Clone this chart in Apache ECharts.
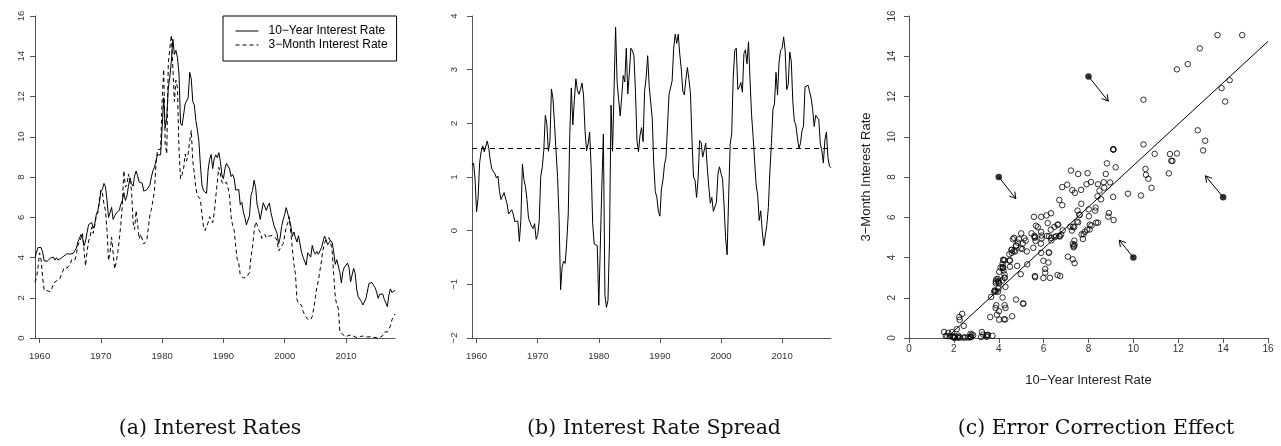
<!DOCTYPE html>
<html>
<head>
<meta charset="utf-8">
<script src="https://cdn.jsdelivr.net/npm/echarts@6/dist/echarts.min.js"></script>
<style>
  html, body { margin: 0; padding: 0; background: #fff; }
  #chart { width: 1281px; height: 446px; }
</style>
</head>
<body>
<div id="chart"></div>
<script>
// Quarterly averages, 1959Q1 .. 2017Q4 (stamped at quarter end)
const firstYear = 1959;

const tenYear = [
  3.99, 4.26, 4.50, 4.58,   // 1959
  4.49, 4.26, 3.83, 3.89,   // 1960
  3.82, 3.80, 3.97, 3.99,   // 1961
  4.02, 3.87, 3.99, 3.87,   // 1962
  3.89, 3.96, 4.02, 4.08,   // 1963
  4.17, 4.19, 4.19, 4.17,   // 1964
  4.20, 4.21, 4.25, 4.47,   // 1965
  4.77, 4.78, 5.14, 5.00,   // 1966
  4.58, 4.82, 5.25, 5.64,   // 1967
  5.61, 5.74, 5.46, 5.66,   // 1968
  6.13, 6.33, 6.70, 7.28,   // 1969
  7.39, 7.68, 7.51, 6.85,   // 1970
  5.99, 6.23, 6.49, 5.89,   // 1971
  6.07, 6.21, 6.24, 6.34,   // 1972
  6.65, 6.83, 7.22, 6.83,   // 1973
  7.05, 7.54, 7.96, 7.67,   // 1974
  7.54, 8.05, 8.30, 8.06,   // 1975
  7.75, 7.78, 7.69, 7.30,   // 1976
  7.38, 7.37, 7.36, 7.60,   // 1977
  8.01, 8.32, 8.49, 8.82,   // 1978
  9.11, 9.11, 9.10, 10.45,  // 1979
  11.94, 10.45, 10.95, 12.42, // 1980
  12.96, 13.75, 14.85, 14.09, // 1981
  14.29, 13.93, 13.11, 10.67, // 1982
  10.56, 10.54, 11.63, 11.69, // 1983
  11.94, 13.20, 12.87, 11.74, // 1984
  11.58, 10.81, 10.34, 9.76,  // 1985
  8.56, 7.60, 7.31, 7.26,   // 1986
  7.19, 8.34, 8.88, 9.12,   // 1987
  8.42, 8.91, 9.10, 8.96,   // 1988
  9.21, 8.77, 8.11, 7.91,   // 1989
  8.42, 8.68, 8.70, 8.40,   // 1990
  8.02, 8.13, 7.94, 7.35,   // 1991
  7.30, 7.38, 6.62, 6.74,   // 1992
  6.28, 5.99, 5.62, 5.61,   // 1993
  6.07, 7.08, 7.33, 7.84,   // 1994
  7.48, 6.62, 6.32, 5.89,   // 1995
  5.91, 6.72, 6.78, 6.34,   // 1996
  6.56, 6.70, 6.24, 5.91,   // 1997
  5.59, 5.60, 5.20, 4.67,   // 1998
  4.98, 5.54, 5.88, 6.14,   // 1999
  6.48, 6.18, 5.89, 5.57,   // 2000
  5.05, 5.27, 4.98, 4.77,   // 2001
  5.08, 5.10, 4.26, 4.01,   // 2002
  3.92, 3.62, 4.23, 4.29,   // 2003
  4.02, 4.60, 4.30, 4.17,   // 2004
  4.30, 4.16, 4.21, 4.49,   // 2005
  4.57, 5.07, 4.90, 4.63,   // 2006
  4.68, 4.85, 4.73, 4.26,   // 2007
  3.66, 3.89, 3.86, 3.25,   // 2008
  2.74, 3.31, 3.52, 3.46,   // 2009
  3.72, 3.49, 2.79, 2.86,   // 2010
  3.46, 3.21, 2.43, 2.05,   // 2011
  2.04, 1.82, 1.64, 1.71,   // 2012
  1.95, 2.00, 2.71, 2.75,   // 2013
  2.76, 2.62, 2.50, 2.28,   // 2014
  1.97, 2.17, 2.22, 2.19,   // 2015
  1.92, 1.75, 1.56, 2.13,   // 2016
  2.44, 2.26, 2.24, 2.37    // 2017
];

const threeMonth = [
  2.77, 3.00, 3.54, 4.23,   // 1959
  3.87, 2.99, 2.36, 2.31,   // 1960
  2.35, 2.30, 2.30, 2.46,   // 1961
  2.72, 2.72, 2.84, 2.81,   // 1962
  2.91, 2.94, 3.29, 3.50,   // 1963
  3.53, 3.48, 3.50, 3.68,   // 1964
  3.89, 3.87, 3.86, 4.16,   // 1965
  4.60, 4.58, 4.96, 5.20,   // 1966
  4.38, 3.58, 4.30, 4.82,   // 1967
  5.03, 5.51, 5.20, 5.58,   // 1968
  6.09, 6.20, 6.86, 7.35,   // 1969
  7.21, 6.67, 6.33, 5.35,   // 1970
  3.84, 4.25, 5.01, 4.23,   // 1971
  3.43, 3.75, 4.24, 4.85,   // 1972
  5.64, 6.60, 8.32, 7.50,   // 1973
  7.62, 8.15, 8.19, 7.36,   // 1974
  5.75, 5.39, 6.33, 5.63,   // 1975
  4.92, 5.16, 5.15, 4.67,   // 1976
  4.63, 4.84, 5.50, 6.11,   // 1977
  6.39, 6.48, 7.32, 8.68,   // 1978
  9.36, 9.37, 9.38, 11.84,  // 1979
  13.35, 9.62, 9.15, 13.61, // 1980
  14.39, 15.05, 15.05, 11.75, // 1981
  12.81, 12.42, 9.32, 7.91, // 1982
  8.11, 8.40, 9.14, 8.80,   // 1983
  9.17, 9.80, 10.32, 8.80,  // 1984
  8.18, 7.46, 7.08, 7.17,   // 1985
  6.89, 6.13, 5.53, 5.34,   // 1986
  5.53, 5.73, 6.03, 5.86,   // 1987
  5.73, 6.21, 7.01, 7.73,   // 1988
  8.48, 8.15, 7.75, 7.64,   // 1989
  7.64, 7.74, 7.47, 7.04,   // 1990
  6.05, 5.59, 5.38, 4.56,   // 1991
  3.91, 3.72, 3.13, 3.08,   // 1992
  2.99, 2.98, 3.02, 3.08,   // 1993
  3.25, 4.04, 4.51, 5.28,   // 1994
  5.78, 5.62, 5.38, 5.27,   // 1995
  4.95, 5.04, 5.14, 4.97,   // 1996
  5.06, 5.07, 5.06, 5.09,   // 1997
  5.08, 4.98, 4.84, 4.32,   // 1998
  4.45, 4.48, 4.69, 5.07,   // 1999
  5.52, 5.71, 6.02, 6.02,   // 2000
  4.42, 3.66, 3.17, 1.91,   // 2001
  1.72, 1.70, 1.63, 1.33,   // 2002
  1.16, 1.04, 0.93, 0.92,   // 2003
  0.91, 1.08, 1.49, 2.01,   // 2004
  2.54, 2.86, 3.36, 3.83,   // 2005
  4.38, 4.70, 4.91, 4.91,   // 2006
  4.98, 4.74, 4.30, 3.15,   // 2007
  2.04, 1.63, 1.49, 0.30,   // 2008
  0.21, 0.17, 0.16, 0.06,   // 2009
  0.11, 0.14, 0.16, 0.14,   // 2010
  0.13, 0.05, 0.02, 0.01,   // 2011
  0.07, 0.09, 0.10, 0.09,   // 2012
  0.09, 0.05, 0.03, 0.06,   // 2013
  0.05, 0.03, 0.03, 0.02,   // 2014
  0.03, 0.02, 0.04, 0.12,   // 2015
  0.29, 0.26, 0.30, 0.44,   // 2016
  0.60, 0.90, 1.04, 1.20    // 2017
];

const yearTicks = [1960, 1970, 1980, 1990, 2000, 2010];

// Error-correction illustration: off-equilibrium points and where they are pulled
const arrowFrom = [[4, 8], [8, 13], [14, 7], [10, 4]];
const arrowTo = [[4.76, 6.93], [8.88, 11.77], [13.21, 8.06], [9.37, 4.86]];

const seriesNames = ['10\u2212Year Interest Rate', '3\u2212Month Interest Rate'];
const captions = ['(a) Interest Rates', '(b) Interest Rate Spread', '(c) Error Correction Effect'];

// ---- derived series ----
const times = tenYear.map((_, i) => firstYear + (i + 1) / 4);
const spread = tenYear.map((v, i) => +(v - threeMonth[i]).toFixed(2));
const meanSpread = spread.reduce((a, b) => a + b, 0) / spread.length;

const n = tenYear.length;
const mx = tenYear.reduce((a, b) => a + b, 0) / n;
const my = threeMonth.reduce((a, b) => a + b, 0) / n;
let sxy = 0, sxx = 0;
for (let i = 0; i < n; i++) {
  sxy += (tenYear[i] - mx) * (threeMonth[i] - my);
  sxx += (tenYear[i] - mx) * (tenYear[i] - mx);
}
const slope = sxy / sxx;
const intercept = my - slope * mx;
const fitX0 = Math.max(0, -intercept / slope);
const fitLine = [[fitX0, intercept + slope * fitX0], [16, intercept + slope * 16]];

const sans = '"Liberation Sans", Arial, Helvetica, sans-serif';
const serif = '"DejaVu Serif", serif';
const minus = v => String(v).replace('-', '\u2212');

function valueAxisY(grid, min, max, interval, margin, fontSize) {
  return {
    type: 'value', gridIndex: grid, min, max, interval,
    axisLine: { show: true, onZero: false, lineStyle: { color: '#555', width: 1 } },
    axisTick: { show: true, length: 5, lineStyle: { color: '#555' } },
    axisLabel: { rotate: 90, margin, fontSize, fontFamily: sans, color: '#333', formatter: minus },
    splitLine: { show: false }
  };
}

function timeAxisX(grid) {
  return {
    type: 'value', gridIndex: grid, min: times[0], max: times[times.length - 1],
    axisLine: { show: true, onZero: false, lineStyle: { color: '#555', width: 1 } },
    axisTick: { show: true, length: 5, customValues: yearTicks, lineStyle: { color: '#555' } },
    axisLabel: {
      customValues: yearTicks, margin: 13, fontSize: 9.5, fontFamily: sans, color: '#333',
      formatter: v => String(Math.round(v))
    },
    splitLine: { show: false }
  };
}

const chart = echarts.init(document.getElementById('chart'), null, { renderer: 'canvas' });

chart.setOption({
  animation: false,
  backgroundColor: '#fff',
  title: captions.map((t, i) => ({
    text: t,
    left: [205, 649, 1091][i],
    top: 413,
    textAlign: 'center',
    textStyle: { fontFamily: serif, fontSize: 20.5, fontWeight: 'normal', color: '#111' }
  })),
  legend: {
    data: seriesNames,
    orient: 'vertical',
    left: 223, top: 16,
    padding: [9, 9, 10, 12],
    itemGap: 2, itemWidth: 23, itemHeight: 12,
    borderColor: '#000', borderWidth: 1,
    selectedMode: false,
    itemStyle: { color: 'rgba(0,0,0,0)', borderWidth: 0, opacity: 0 },
    lineStyle: { width: 1, color: '#000' },
    textStyle: { fontFamily: sans, fontSize: 12, color: '#000', padding: [0, 0, 0, 5] }
  },
  grid: [
    { left: 35, top: 16, width: 360, height: 322 },
    { left: 472, top: 16, width: 359, height: 322 },
    { left: 909, top: 16, width: 359, height: 322 }
  ],
  xAxis: [
    timeAxisX(0),
    timeAxisX(1),
    {
      type: 'value', gridIndex: 2, min: 0, max: 16, interval: 2,
      name: '10\u2212Year Interest Rate', nameLocation: 'middle', nameGap: 36,
      nameTextStyle: { fontFamily: sans, fontSize: 13, color: '#222' },
      axisLine: { show: true, onZero: false, lineStyle: { color: '#555', width: 1 } },
      axisTick: { show: true, length: 5, lineStyle: { color: '#555' } },
      axisLabel: { margin: 6, fontSize: 10, fontFamily: sans, color: '#333' },
      splitLine: { show: false }
    }
  ],
  yAxis: [
    valueAxisY(0, 0, 16, 2, 9, 9.5),
    valueAxisY(1, -2, 4, 1, 13, 9.5),
    Object.assign(valueAxisY(2, 0, 16, 2, 12, 10), {
      name: '3\u2212Month Interest Rate', nameLocation: 'middle', nameGap: 36, nameRotate: 90,
      nameTextStyle: { fontFamily: sans, fontSize: 13, color: '#222' }
    })
  ],
  series: [
    {
      name: seriesNames[0], type: 'line', xAxisIndex: 0, yAxisIndex: 0,
      data: times.map((t, i) => [t, tenYear[i]]),
      showSymbol: false, symbol: 'none',
      lineStyle: { color: '#000', width: 1 }, itemStyle: { color: '#000' }
    },
    {
      name: seriesNames[1], type: 'line', xAxisIndex: 0, yAxisIndex: 0,
      data: times.map((t, i) => [t, threeMonth[i]]),
      showSymbol: false, symbol: 'none',
      lineStyle: { color: '#000', width: 1, type: [4, 3] }, itemStyle: { color: '#000' }
    },
    {
      name: 'Spread', type: 'line', xAxisIndex: 1, yAxisIndex: 1,
      data: times.map((t, i) => [t, spread[i]]),
      showSymbol: false, symbol: 'none',
      lineStyle: { color: '#000', width: 1 },
      markLine: {
        silent: true, symbol: ['none', 'none'], label: { show: false },
        lineStyle: { color: '#000', width: 1, type: [5, 4] },
        data: [{ yAxis: meanSpread }]
      }
    },
    {
      name: 'Pairs', type: 'scatter', xAxisIndex: 2, yAxisIndex: 2,
      data: tenYear.map((v, i) => [v, threeMonth[i]]),
      symbol: 'circle', symbolSize: 5.5,
      itemStyle: { color: 'rgba(0,0,0,0)', borderColor: '#000', borderWidth: 1 }
    },
    {
      name: 'Fit', type: 'line', xAxisIndex: 2, yAxisIndex: 2,
      data: fitLine, showSymbol: false, symbol: 'none',
      lineStyle: { color: '#000', width: 1 }
    },
    {
      name: 'Disequilibrium', type: 'scatter', xAxisIndex: 2, yAxisIndex: 2,
      data: arrowFrom, symbol: 'circle', symbolSize: 6.5,
      itemStyle: { color: '#000' }
    },
    {
      name: 'Correction', type: 'custom', xAxisIndex: 2, yAxisIndex: 2,
      data: arrowFrom.map((f, i) => [f[0], f[1], arrowTo[i][0], arrowTo[i][1]]),
      encode: { x: [0, 2], y: [1, 3] },
      renderItem: function (params, api) {
        const p0 = api.coord([api.value(0), api.value(1)]);
        const p1 = api.coord([api.value(2), api.value(3)]);
        const ang = Math.atan2(p1[1] - p0[1], p1[0] - p0[0]);
        const hl = 7, ha = Math.PI / 6;
        const h1 = [p1[0] - hl * Math.cos(ang - ha), p1[1] - hl * Math.sin(ang - ha)];
        const h2 = [p1[0] - hl * Math.cos(ang + ha), p1[1] - hl * Math.sin(ang + ha)];
        return {
          type: 'group',
          children: [
            { type: 'line', shape: { x1: p0[0], y1: p0[1], x2: p1[0], y2: p1[1] },
              style: { stroke: '#000', lineWidth: 1 } },
            { type: 'polyline', shape: { points: [h1, p1, h2] },
              style: { stroke: '#000', lineWidth: 1, fill: null } }
          ]
        };
      }
    }
  ]
});
</script>
</body>
</html>
